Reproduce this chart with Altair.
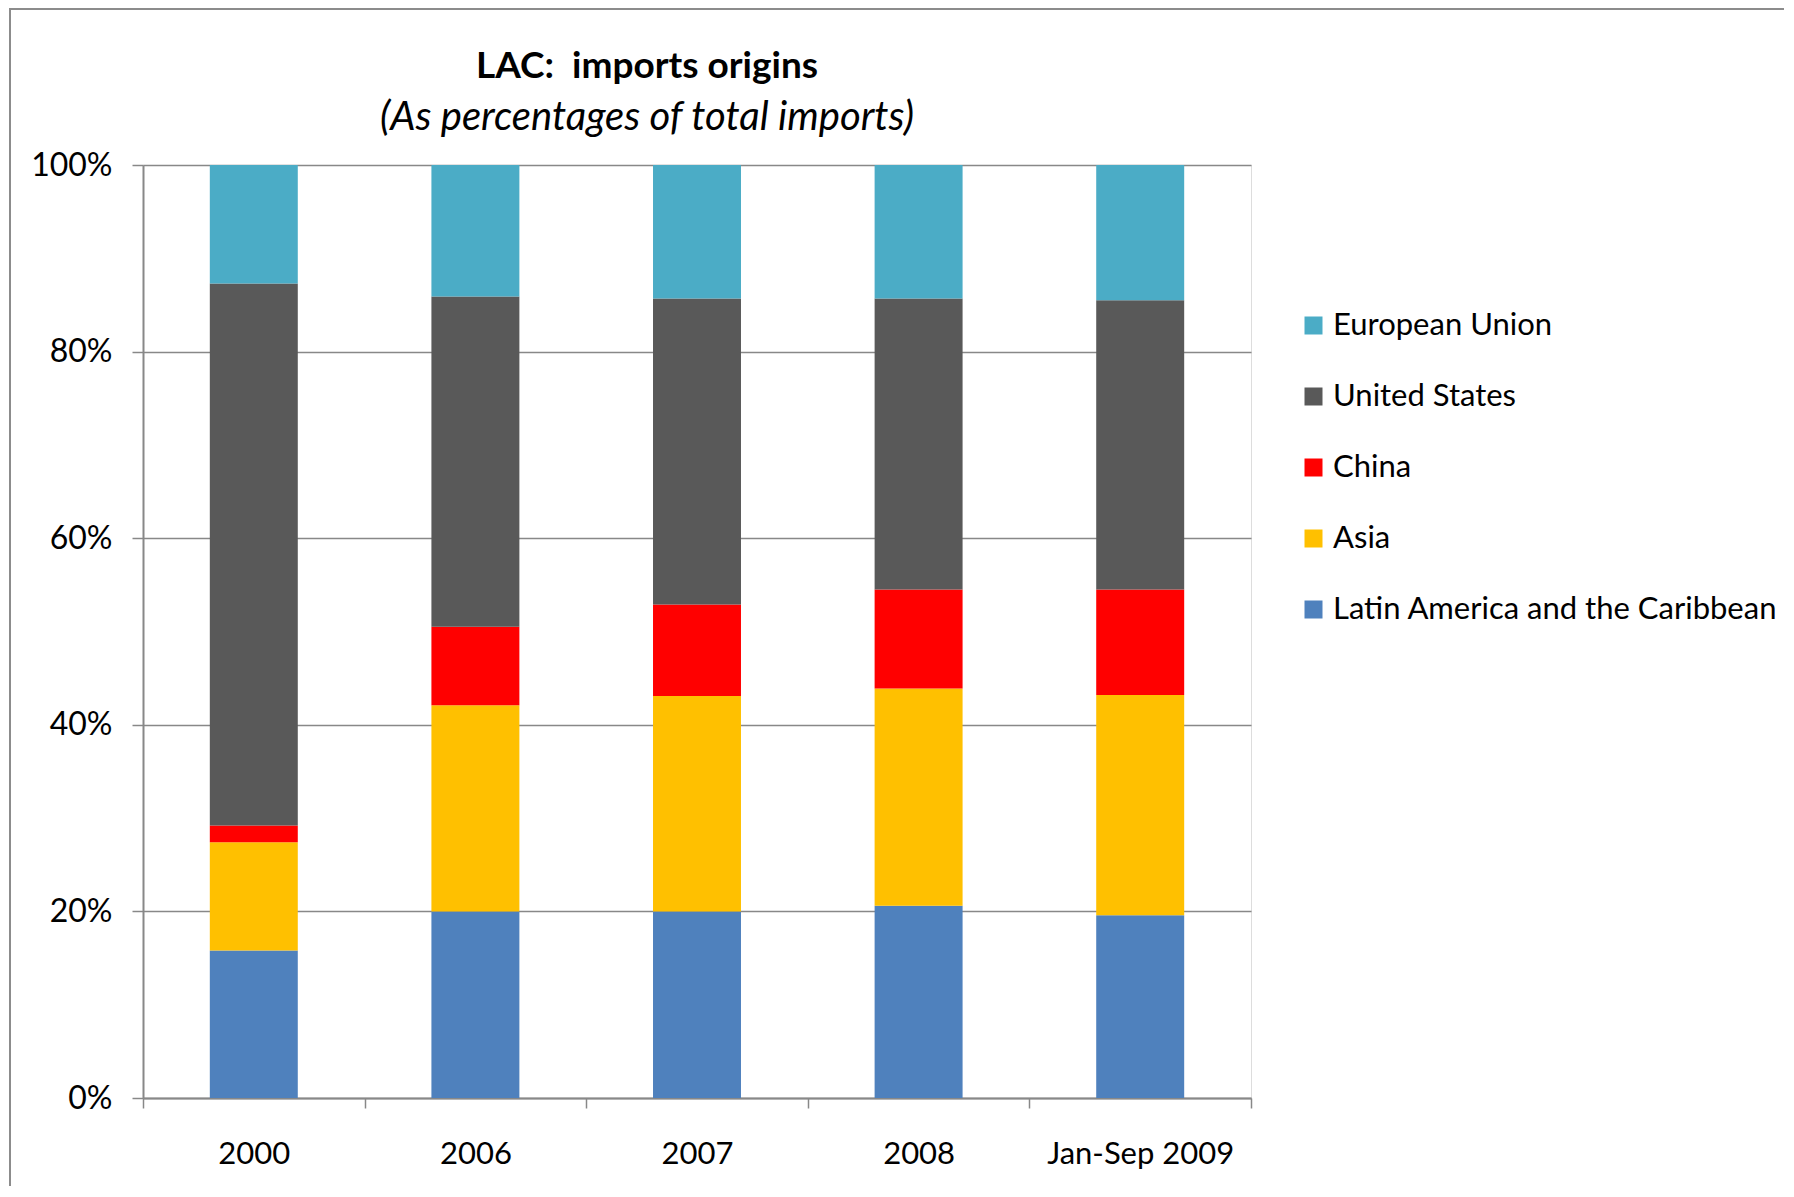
import altair as alt
import pandas as pd

categories = ["2000", "2006", "2007", "2008", "Jan-Sep 2009"]
regions = ["Latin America and the Caribbean", "Asia", "China", "United States", "European Union"]
legend_order = ["European Union", "United States", "China", "Asia", "Latin America and the Caribbean"]
colors = ["#4BACC6", "#595959", "#FF0000", "#FFC000", "#4F81BD"]

lac = [15.8, 20.0, 20.0, 20.6, 19.6]
asia = [11.6, 22.1, 23.1, 23.3, 23.6]
china = [1.8, 8.4, 9.8, 10.6, 11.3]
us = [58.1, 35.4, 32.8, 31.2, 31.0]
eu = [12.7, 14.1, 14.3, 14.3, 14.5]

title_text = ["LAC:\u00a0 imports origins"]
subtitle_text = ["(As percentages of total imports)"]

series = [lac, asia, china, us, eu]
rows = []
for k, (reg, vals) in enumerate(zip(regions, series)):
    for cat, v in zip(categories, vals):
        rows.append({"period": cat, "region": reg, "value": v, "order": k})
df = pd.DataFrame(rows)

FONT = "Lato"
W, H = 1108, 933

bars = alt.Chart(df).mark_bar(width=alt.RelativeBandSize(0.397)).encode(
    x=alt.X("period:N", sort=categories, title=None,
            scale=alt.Scale(paddingInner=0, paddingOuter=0),
            axis=alt.Axis(labelAngle=0, labelFontSize=31, labelColor="black",
                          labelFont=FONT, tickBand="extent", tickSize=10,
                          tickColor="#888888", tickWidth=1.5, domainColor="#888888",
                          domainWidth=2, labelPadding=31, grid=False, labelLimit=400)),
    y=alt.Y("value:Q", stack="normalize", title=None,
            scale=alt.Scale(domain=[0, 1]),
            axis=alt.Axis(format=".0%", values=[0, 0.2, 0.4, 0.6, 0.8, 1.0],
                          labelFontSize=32, labelColor="black", labelFont=FONT,
                          tickSize=11, tickColor="#888888", tickWidth=1.5,
                          domainColor="#888888", domainWidth=2, labelPadding=20,
                          grid=True, gridColor="#888888", gridWidth=1.5)),
    color=alt.Color("region:N", scale=alt.Scale(domain=legend_order, range=colors),
                    legend=alt.Legend(title=None, orient="none", legendX=1155, legendY=145,
                                      symbolType="square", symbolSize=324,
                                      symbolStrokeWidth=0, labelFontSize=31,
                                      labelFont=FONT, labelColor="black",
                                      labelOffset=4, rowPadding=39, labelLimit=600,
                                      padding=0)),
    order=alt.Order("order:Q", sort="ascending"),
)

title_mark = alt.Chart(pd.DataFrame({"t": title_text})).mark_text(
    font=FONT, fontSize=37, fontWeight="bold", color="black",
    align="center", baseline="alphabetic"
).encode(text="t:N", x=alt.value(504), y=alt.value(-87))

subtitle_mark = alt.Chart(pd.DataFrame({"t": subtitle_text})).mark_text(
    font=FONT, fontSize=40, fontStyle="italic", color="black",
    align="center", baseline="alphabetic"
).encode(text="t:N", x=alt.value(504), y=alt.value(-35))

frame_left = alt.Chart(df).mark_rule(color="#8c8c8c", strokeWidth=2).encode(
    x=alt.value(-133), y=alt.value(-157), y2=alt.value(H + 88)
)
frame_top = alt.Chart(df).mark_rule(color="#8c8c8c", strokeWidth=2).encode(
    x=alt.value(-133), x2=alt.value(W + 540), y=alt.value(-156)
)

chart = alt.layer(bars, title_mark, subtitle_mark, frame_left, frame_top).properties(
    width=W, height=H,
    padding={"left": 135, "top": 157, "right": 533, "bottom": 88},
    autosize=alt.AutoSizeParams(type="none"),
).configure_view(strokeWidth=0, stroke="transparent").configure(font=FONT)

chart.save("out.html", embed_options={"renderer": "svg", "actions": False})
